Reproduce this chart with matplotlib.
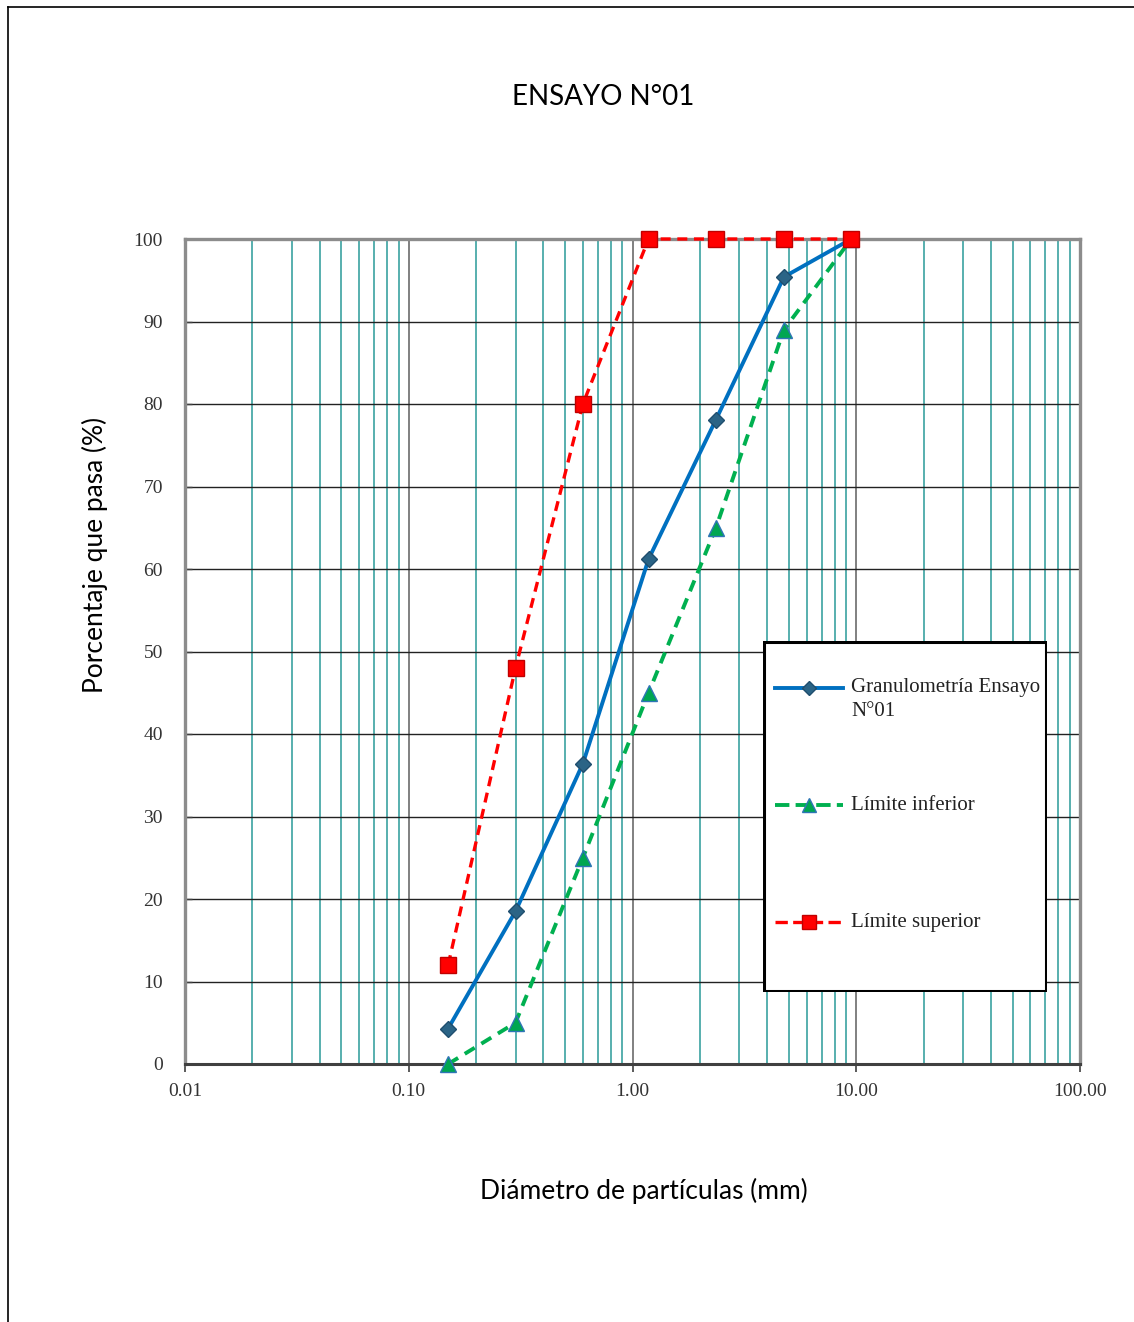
import matplotlib.pyplot as plt
from matplotlib.lines import Line2D
from matplotlib.patches import Rectangle

# Tamices (mm) y porcentajes que pasan
tamiz = [0.15, 0.30, 0.60, 1.18, 2.36, 4.75, 9.50]
granulometria = [4.3, 18.5, 36.4, 61.2, 78.1, 95.4, 100.0]
lim_inferior = [0, 5, 25, 45, 65, 89, 100]
lim_superior = [12, 48, 80, 100, 100, 100, 100]

x_ticks = [0.01, 0.1, 1, 10, 100]
x_tick_labels = ["0.01", "0.10", "1.00", "10.00", "100.00"]
y_ticks = list(range(0, 101, 10))

serif = "Liberation Serif"
sans = "Lato"

fig = plt.figure(figsize=(11.34, 13.22), dpi=100)
ax = fig.add_axes([185 / 1134, 1 - 1064 / 1322, 895 / 1134, 825 / 1322])

# marco del gráfico (solo arriba e izquierda visibles)
fig.add_artist(Line2D([8 / 1134, 1.0], [1 - 7 / 1322, 1 - 7 / 1322],
                      transform=fig.transFigure, color="black", lw=1.2))
fig.add_artist(Line2D([8 / 1134, 8 / 1134], [0.0, 1 - 7 / 1322],
                      transform=fig.transFigure, color="black", lw=1.2))

ax.set_xscale("log")
ax.set_xlim(0.01, 100)
ax.set_ylim(0, 100)

# rejilla
for d in [0.01, 0.1, 1, 10]:
    for k in range(2, 10):
        ax.axvline(d * k, color="#2A9A98", lw=1.1, zorder=1)
for d in [0.1, 1, 10]:
    ax.axvline(d, color="#808080", lw=1.4, zorder=1)
for v in y_ticks[1:-1]:
    ax.axhline(v, color="#222222", lw=1.0, zorder=1)

series = []
series += ax.plot(tamiz, granulometria, color="#0070C0", lw=2.8, marker="D",
                  markersize=8, markerfacecolor="#2B6486", markeredgecolor="#1F4E6E",
                  zorder=4, clip_on=False, label="Granulometría Ensayo\nN°01")
series += ax.plot(tamiz, lim_inferior, color="#00B050", lw=2.8, ls=(0, (3, 2)),
                  marker="^", markersize=11, markerfacecolor="#00A651",
                  markeredgecolor="#2E75B6", zorder=3, clip_on=False,
                  label="Límite inferior")
series += ax.plot(tamiz, lim_superior, color="#FF0000", lw=2.4, ls=(0, (3, 2)),
                  marker="s", markersize=11, markerfacecolor="#FF0000",
                  markeredgecolor="#C00000", zorder=5, clip_on=False,
                  label="Límite superior")

ax.set_xticks(x_ticks)
ax.set_xticklabels(x_tick_labels, fontfamily=serif, fontsize=14, color="#333333")
ax.xaxis.set_minor_locator(plt.NullLocator())
ax.set_yticks(y_ticks)
ax.set_yticklabels([str(v) for v in y_ticks], fontfamily=serif, fontsize=14,
                   color="#333333")
ax.tick_params(axis="x", direction="out", length=6, width=1.2, color="#404040", pad=8)
ax.tick_params(axis="y", direction="in", length=5, width=1.0, color="#404040", pad=16)

for s in ["left", "top", "right"]:
    ax.spines[s].set_color("#8C8C8C")
    ax.spines[s].set_linewidth(2.4)
ax.spines["bottom"].set_color("#404040")
ax.spines["bottom"].set_linewidth(2.2)

fig.text(603 / 1134, 1 - 97 / 1322, "ENSAYO N°01", fontfamily=sans,
         fontsize=20, ha="center", va="center")
fig.text(644 / 1134, 1 - 1191 / 1322, "Diámetro de partículas (mm)",
         fontfamily=sans, fontsize=19, ha="center", va="center")
fig.text(95 / 1134, 1 - 555 / 1322, "Porcentaje que pasa (%)", fontfamily=sans,
         fontsize=19, ha="center", va="center", rotation=90)

# leyenda
lg = fig.add_axes([763 / 1134, 1 - 992 / 1322, 284 / 1134, 351 / 1322])
lg.set_xlim(0, 284)
lg.set_ylim(351, 0)
lg.axis("off")
lg.add_patch(Rectangle((1, 1), 282, 349, fill=True, facecolor="white",
                       edgecolor="black", lw=2.2, zorder=0))
ys = [47, 164, 281]
for ln, yy in zip(series, ys):
    lg.plot([12, 80], [yy, yy], color=ln.get_color(), lw=ln.get_linewidth(),
            ls=ln.get_linestyle())
    lg.plot([46], [yy], marker=ln.get_marker(), markersize=ln.get_markersize() * 0.9,
            markerfacecolor=ln.get_markerfacecolor(),
            markeredgecolor=ln.get_markeredgecolor(), ls="none")
    etiqueta = ln.get_label()
    if "\n" in etiqueta:
        lg.text(88, yy - 10, etiqueta, fontfamily=serif, fontsize=15,
                va="top", color="#222222", linespacing=1.35)
    else:
        lg.text(88, yy, etiqueta, fontfamily=serif, fontsize=15,
                va="center", color="#222222")

fig.savefig("out.png", dpi=100, facecolor="white")
